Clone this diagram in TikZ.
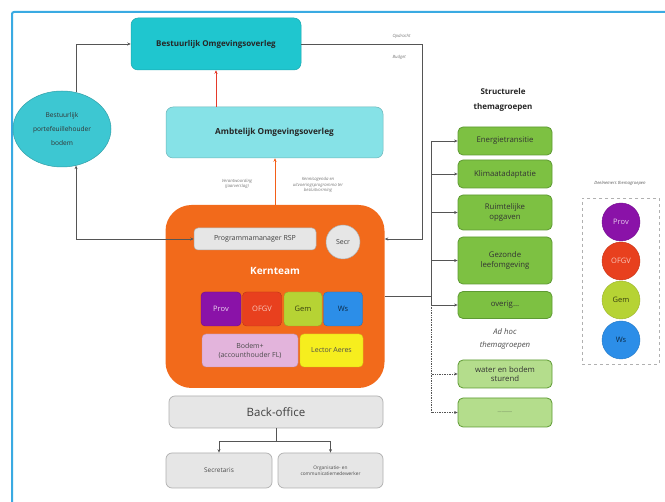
\documentclass[tikz,border=0pt]{standalone}
\usepackage{fontspec}
\setmainfont{Open Sans}
\usetikzlibrary{shapes.geometric,arrows.meta}
\definecolor{framec}{HTML}{3AAAE2}
\definecolor{teal1}{HTML}{1FC6CF}
\definecolor{teal2}{HTML}{86E2E7}
\definecolor{ellc}{HTML}{3DC7D2}
\definecolor{orangek}{HTML}{F26A1B}
\definecolor{greyf}{HTML}{E6E6E6}
\definecolor{greyd}{HTML}{B0B0B0}
\definecolor{provc}{HTML}{8A12A8}
\definecolor{ofgvc}{HTML}{E8401E}
\definecolor{gemc}{HTML}{B6D334}
\definecolor{wsc}{HTML}{2C8EE8}
\definecolor{pinkc}{HTML}{E3B4DC}
\definecolor{yelc}{HTML}{F6EE1E}
\definecolor{greenc}{HTML}{7DC142}
\definecolor{greenb}{HTML}{5E9A33}
\definecolor{lgreenc}{HTML}{B4DD8C}
\definecolor{linec}{HTML}{555555}
\definecolor{labc}{HTML}{777777}
\definecolor{redl}{HTML}{E53A2A}
\tikzset{
  box/.style={rectangle, rounded corners=#1, align=center, inner sep=1pt},
  box/.default=6pt,
  conn/.style={draw=linec, line width=0.7pt},
  arr/.style={conn, -{Stealth[length=3.5pt,width=3pt]}},
  arr2/.style={conn, {Stealth[length=3.5pt,width=3pt]}-{Stealth[length=3.5pt,width=3pt]}},
  small/.style={font=\fontsize{4.3}{5.2}\selectfont\itshape, text=labc, align=center},
  gbox/.style={box=5pt, fill=greenc, draw=greenb, line width=0.8pt, minimum width=94pt, font=\fontsize{7.8}{9.8}\selectfont, text=black!80},
  lgbox/.style={box=5pt, fill=lgreenc, draw=greenb, line width=0.8pt, minimum width=94pt, font=\fontsize{7.8}{9.8}\selectfont, text=black!80},
  mem/.style={box=4pt, minimum width=38pt, minimum height=34pt, font=\fontsize{7.5}{9}\selectfont},
  dcirc/.style={circle, minimum size=38pt, inner sep=0pt, font=\fontsize{7.5}{9}\selectfont},
  gbx/.style={box=6pt, fill=greyf, draw=greyd, line width=0.7pt},
}
\begin{document}
\begin{tikzpicture}[x=1pt,y=-1pt]
\useasboundingbox[fill=white] (0,0) rectangle (665,502);
% frame
\draw[framec, line width=2pt, rounded corners=2pt] (12,503) -- (12,12) -- (666,12);

% top boxes
\node[box=7pt, fill=teal1, draw=teal1!85!black, line width=0.5pt, minimum width=170pt, minimum height=52pt, font=\bfseries\fontsize{8}{10}\selectfont, text=black!85] (bo) at (216,44) {Bestuurlijk Omgevingsoverleg};
\node[box=7pt, fill=teal2, draw=teal2!80!black, line width=0.5pt, minimum width=217pt, minimum height=51pt, font=\bfseries\fontsize{8.3}{10}\selectfont, text=black!85] (ao) at (274.5,132.5) {Ambtelijk Omgevingsoverleg};
\node[ellipse, fill=ellc, draw=ellc!80!black, line width=0.5pt, minimum width=98pt, minimum height=76pt, inner sep=0pt, align=center, font=\fontsize{6.6}{14}\selectfont, text=black!80] (ell) at (62,129) {Bestuurlijk\\portefeuillehouder\\bodem};

% kernteam
\node[box=26pt, fill=orangek, minimum width=219pt, minimum height=183pt] (kern) at (275,296.5) {};
\node[box=4pt, fill=greyf, draw=greyd, line width=0.5pt, minimum width=122pt, minimum height=22pt, font=\fontsize{7}{8}\selectfont, text=black!75] (pm) at (255,239) {Programmamanager RSP};
\node[circle, fill=greyf, draw=greyd, line width=0.5pt, minimum size=34pt, inner sep=0pt, font=\fontsize{7}{8}\selectfont, text=black!75] (secr) at (343,242) {Secr};
\node[font=\bfseries\fontsize{10}{12}\selectfont, text=white] (kt) at (275,271) {Kernteam};
\node[mem, fill=provc, draw=provc!80!black, text=white!85!provc, minimum width=40pt] (prov) at (221,309) {Prov};
\node[mem, fill=ofgvc, draw=ofgvc!80!black, text=white!70!ofgvc, minimum width=39pt] (ofgv) at (262,309) {OFGV};
\node[mem, fill=gemc, draw=gemc!80!black, text=black!70!gemc] (gem) at (303,309) {Gem};
\node[mem, fill=wsc, draw=wsc!80!black, text=black!70!wsc, minimum width=39pt] (ws) at (343,309) {Ws};
\node[box=4pt, fill=pinkc, draw=pinkc!80!black, line width=0.4pt, minimum width=96pt, minimum height=33pt, font=\fontsize{7}{9}\selectfont, text=black!70] (bodem) at (250,350.5) {Bodem+\\(accounthouder FL)};
\node[box=4pt, fill=yelc, draw=yelc!85!black, line width=0.4pt, minimum width=63pt, minimum height=33pt, font=\fontsize{7}{9}\selectfont, text=black!70] (lector) at (331.5,350.5) {Lector Aeres};

% back-office
\node[gbx, minimum width=214pt, minimum height=32pt, font=\fontsize{11.5}{13}\selectfont, text=black!75] (back) at (276,412) {Back-office};
\node[gbx, minimum width=106pt, minimum height=35pt, font=\fontsize{6.5}{8}\selectfont, text=black!70] (sec) at (219,470.5) {Secretaris};
\node[gbx, minimum width=105pt, minimum height=35pt, font=\fontsize{4.8}{6.2}\selectfont, text=black!70] (org) at (330.5,470.5) {Organisatie- en\\communicatiemedewerker};

% themagroepen
\node[font=\bfseries\fontsize{8}{14.5}\selectfont, align=center, text=black!85] (st) at (503,100) {Structurele\\themagroepen};
\node[gbox, minimum height=28pt] (e1) at (505,141) {Energietransitie};
\node[gbox, minimum height=28pt] (e2) at (505,174) {Klimaatadaptatie};
\node[gbox, minimum height=35pt] (e3) at (505,212.5) {Ruimtelijke\\opgaven};
\node[gbox, minimum height=47pt] (e4) at (505,260.5) {Gezonde\\leefomgeving};
\node[gbox, minimum height=27pt] (e5) at (505,305) {overig...};
\node[font=\itshape\fontsize{7.8}{13}\selectfont, align=center, text=black!70] (adhoc) at (505,338.5) {Ad hoc\\themagroepen};
\node[lgbox, minimum height=28pt] (a1) at (505,374) {water en bodem\\sturend};
\node[lgbox, minimum height=29pt, font=\fontsize{4}{5}\selectfont] (a2) at (505,412.5) {..............};

% deelnemers
\node[small, text=black!65] (dl) at (620,183) {Deelnemers themagroepen};
\node[draw=greyd, dashed, line width=0.7pt, minimum width=77pt, minimum height=166pt, inner sep=0pt] (dbox) at (620.5,281) {};
\node[dcirc, fill=provc, draw=provc!85!black, text=white!80!provc] (c1) at (621,222) {Prov};
\node[dcirc, fill=ofgvc, draw=ofgvc!85!black, text=white!70!ofgvc] (c2) at (621,261) {OFGV};
\node[dcirc, fill=gemc, draw=gemc!85!black, text=black!70!gemc] (c3) at (621,300) {Gem};
\node[dcirc, fill=wsc, draw=wsc!85!black, text=black!70!wsc] (c4) at (621,340) {Ws};

% connectors
\draw[arr] (bo.east) -- ++(121,0) coordinate (rc) |- (kern.east |- pm.center);
\node[small, anchor=west] (op) at (389,36) {Opdracht};
\node[small, anchor=west] (bu) at (389,57) {Budget};
\draw[arr] (ell.69) |- (bo.west);
\draw[arr2] (ell.-69) |- (pm.west);
\draw[draw=redl, line width=0.7pt, -{Stealth[length=3.5pt,width=3pt]}] (bo.south |- ao.north) -- (bo.south);
\draw[draw=orangek!90!red, line width=0.7pt, -{Stealth[length=3.5pt,width=3pt]}] (kern.north) -- (kern.north |- ao.south);
\node[small] (vw) at (237,184) {Verantwoording\\(jaarverslag)};
\node[small] (ka) at (318,185) {Kennisagenda en\\uitvoeringsprogramma ter\\besluitvorming};

\draw[arr] (back.south) -- ++(0,13) coordinate (bj) -| (sec.north);
\draw[arr] (bj) -| (org.north);

\draw[conn] (kern.east) -- ++(47,0) coordinate (tj);
\draw[conn] (tj |- e1.west) -- (tj |- e5.west);
\foreach \n in {e1,e2,e3,e4,e5} \draw[arr] (tj |- \n.west) -- (\n.west);
\draw[conn, densely dotted] (tj |- e5.west) -- (tj |- a2.west);
\foreach \n in {a1,a2} \draw[arr, densely dotted] (tj |- \n.west) -- (\n.west);
\end{tikzpicture}
\end{document}
